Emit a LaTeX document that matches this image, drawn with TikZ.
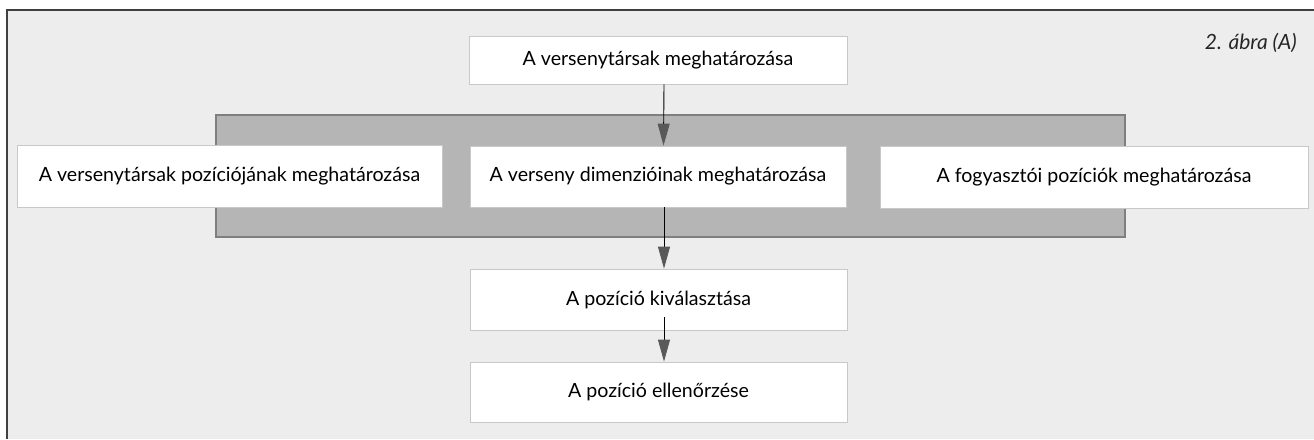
\documentclass[tikz,border=0pt]{standalone}
\usepackage{fontspec}
\setmainfont{Lato}
\usetikzlibrary{arrows.meta}
\definecolor{paper}{HTML}{EDEDED}
\definecolor{band}{HTML}{B5B5B5}
\definecolor{bandedge}{HTML}{7F7F7F}
\definecolor{boxedge}{HTML}{C8C8C8}
\begin{document}
\begin{tikzpicture}[x=1pt,y=-1pt,
  stepbox/.style={draw=boxedge,line width=0.8pt,fill=white,inner sep=0pt,
    font=\fontsize{19.6}{22}\selectfont,text=black},
  flow/.style={draw=black,line width=0.9pt,
    -{Triangle[length=22pt,width=12pt,color=black!65]}}]
\useasboundingbox (0,0) rectangle (1314,439);
% paper background with frame
\fill[white] (0,0) rectangle (1314,439);
\fill[paper] (7,10) rectangle (1314,439);
\draw[black!75,line width=1.5pt] (7,439) -- (7,10) -- (1314,10);
% grey band
\filldraw[fill=band,draw=bandedge,line width=1.2pt] (216,115) rectangle (1125,237);
% boxes
\node[stepbox,minimum width=378pt,minimum height=48pt] (top) at (658,60) {A versenytársak meghatározása};
\node[stepbox,minimum width=425pt,minimum height=62pt] (left) at (229.5,176) {A versenytársak pozíciójának meghatározása};
\node[stepbox,minimum width=376pt,minimum height=61pt] (mid) at (658,176.5) {A verseny dimenzióinak meghatározása};
\node[stepbox,minimum width=428pt,minimum height=62pt] (right) at (1094,177) {A fogyasztói pozíciók meghatározása};
\node[stepbox,minimum width=377pt,minimum height=61pt] (sel) at (658.5,299.5) {A pozíció kiválasztása};
\node[stepbox,minimum width=377pt,minimum height=60pt] (chk) at (658.5,392) {A pozíció ellenőrzése};
% caption
\node[anchor=east,inner sep=0pt,font=\fontsize{21}{24}\selectfont\itshape,text=black!85] (cap) at (1297,43) {2. ábra (A)};
% arrows
\draw[flow] ([xshift=6pt]top.south) -- ([xshift=5.5pt]mid.north);
\draw[flow] ([xshift=6pt]mid.south) -- ([xshift=5.5pt]sel.north);
\draw[flow] ([xshift=5.5pt,yshift=13pt]sel.south) -- ([xshift=5.5pt]chk.north);
\end{tikzpicture}
\end{document}
